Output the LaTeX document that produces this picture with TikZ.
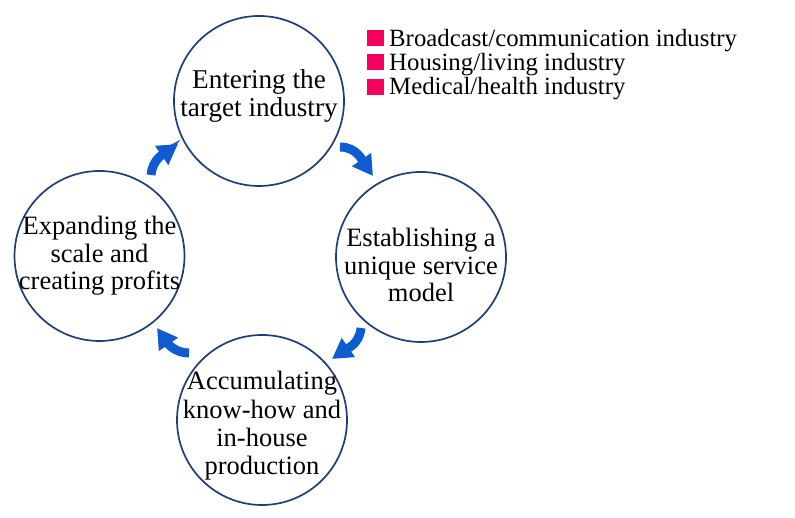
\documentclass[tikz,border=0pt]{standalone}
\usepackage{fontspec}
\setmainfont{Liberation Serif}
\usetikzlibrary{arrows.meta}
\definecolor{ringblue}{HTML}{1F3E78}
\definecolor{arrowblue}{HTML}{0F5BD0}
\definecolor{legpink}{HTML}{F5005F}
\begin{document}
\begin{tikzpicture}[x=1pt,y=1pt,
  stage/.style={circle, draw=ringblue, line width=1.7pt, minimum size=170pt, inner sep=0pt},
  stagetext/.style={align=center, inner sep=0pt, font=\fontsize{26.5}{27.5}\selectfont},
  cyc/.style={draw=arrowblue, line width=9pt, -{Triangle[width=22pt,length=20pt]}},
  legsq/.style={fill=legpink, minimum width=17pt, minimum height=16pt, inner sep=0pt, anchor=south west},
  legtxt/.style={anchor=base west, inner sep=0pt, font=\fontsize{24.8}{26}\selectfont}]
\useasboundingbox (0,0) rectangle (795,518);
\node[stage] (top) at (259,417) {};
\node[stage] (right) at (421,261) {};
\node[stage] (bottom) at (262,98) {};
\node[stage] (left) at (99.5,262) {};
\node[stagetext, font=\fontsize{27.2}{27.5}\selectfont] (topt) at ([yshift=5pt]top.center) {Entering the\\target industry};
\node[stagetext] (rightt) at ([yshift=-8pt]right.center) {Establishing a\\unique service\\model};
\node[stagetext, font=\fontsize{26.5}{28.3}\selectfont] (bottomt) at ([yshift=-6pt]bottom.center) {Accumulating\\know-how and\\in-house\\production};
\node[stagetext] (leftt) at (left.center) {Expanding the\\scale and\\creating profits};
% cycle arrows
\coordinate (a1s) at (340,371); \coordinate (a1e) at (373,342);
\coordinate (a2s) at (361,190); \coordinate (a2e) at (332,159);
\coordinate (a3s) at (189,165); \coordinate (a3e) at (157,190);
\coordinate (a4s) at (151,343); \coordinate (a4e) at (178,374);
\draw[cyc] (a1s) to[out=0,in=125] (a1e);
\draw[cyc] (a2s) to[out=-95,in=35] (a2e);
\draw[cyc] (a3s) to[out=180,in=-55] (a3e);
\draw[cyc] (a4s) to[out=85,in=215] (a4e);
% legend
\node[legsq] (sq1) at (367,471.5) {};
\node[legtxt] (lg1) at (389,471.5) {Broadcast/communication industry};
\node[legsq] (sq2) at (367,447.3) {};
\node[legtxt] (lg2) at (389,447.3) {Housing/living industry};
\node[legsq] (sq3) at (367,423) {};
\node[legtxt] (lg3) at (389,423) {Medical/health industry};
\end{tikzpicture}
\end{document}
